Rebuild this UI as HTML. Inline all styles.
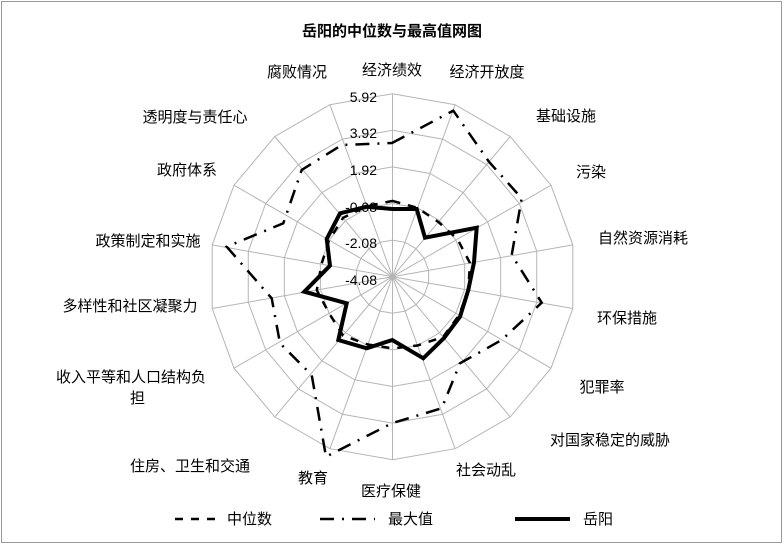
<!DOCTYPE html>
<html><head><meta charset="utf-8"><style>
body{margin:0;background:#fff}
svg{display:block}
text{font-family:"Liberation Sans","Noto Sans CJK SC",sans-serif;fill:#000}
</style></head><body>
<svg width="784" height="545" viewBox="0 0 784 545" xmlns="http://www.w3.org/2000/svg">
<rect x="1.5" y="1.5" width="780" height="541" fill="#fff" stroke="#999" stroke-width="1"/>
<text x="392" y="36" font-size="15" font-weight="bold" text-anchor="middle">岳阳的中位数与最高值网图</text>
<g transform="translate(392.5,276.7)" fill="none" stroke="#b5b5b5" stroke-width="1">
<g id="ring"><polygon vector-effect="non-scaling-stroke" points="0,-183 62.6,-172 117.7,-140.2 158.5,-91.5 180.3,-31.8 180.3,31.8 158.5,91.5 117.7,140.2 62.6,172 0,183 -62.6,172 -117.7,140.2 -158.5,91.5 -180.3,31.8 -180.3,-31.8 -158.5,-91.5 -117.7,-140.2 -62.6,-172"/></g>
<use href="#ring" transform="scale(0.8)"/>
<use href="#ring" transform="scale(0.6)"/>
<use href="#ring" transform="scale(0.4)"/>
<use href="#ring" transform="scale(0.2)"/>
<path d="M0,0L0,-183M0,0L62.6,-172M0,0L117.7,-140.2M0,0L158.5,-91.5M0,0L180.3,-31.8M0,0L180.3,31.8M0,0L158.5,91.5M0,0L117.7,140.2M0,0L62.6,172M0,0L0,183M0,0L-62.6,172M0,0L-117.7,140.2M0,0L-158.5,91.5M0,0L-180.3,31.8M0,0L-180.3,-31.8M0,0L-158.5,-91.5M0,0L-117.7,-140.2M0,0L-62.6,-172"/>
</g>
<g font-size="14" text-anchor="end">
<text x="377" y="102">5.92</text>
<text x="377" y="138">3.92</text>
<text x="377" y="175">1.92</text>
<text x="377" y="212">-0.08</text>
<text x="377" y="248">-2.08</text>
<text x="377" y="285">-4.08</text>
</g>
<polygon fill="none" stroke="#000" stroke-width="2.5" stroke-dasharray="8,8" points="392.5,200.9 417.5,207.9 438.4,222 457.5,239.2 470,263 468.2,290.1 459.1,315.2 443.1,337 417.5,345.5 392.5,348.4 367.8,344.5 343.1,335.6 329.1,313.3 316.8,290.1 321.5,264.2 329.1,240.1 343.1,217.8 366.9,206.2"/>
<polygon fill="none" stroke="#000" stroke-width="2.5" stroke-dasharray="14,8,2,8" points="392,143 453.3,110.7 489,161.8 521.7,198.3 511.7,255 541.7,302.7 501.7,340 460,363.3 441.7,408.3 392.5,423 326,456.7 311.7,375 280,343.3 271.7,298.3 226.7,246.7 283.3,223.3 301.7,170 341.7,145"/>
<polygon fill="none" stroke="#000" stroke-width="4" stroke-linejoin="miter" points="392.3,209 416.7,209 425,237.7 476.7,227.7 474,262.3 468.3,290 460,316.7 444,338 423.3,358.3 392.3,340 366.7,348.3 338.3,340 346.7,303.3 304.3,291.7 330,265.7 326.7,239 340,213.3 366.7,206.7"/>
<g font-size="15" text-anchor="middle">
<text x="392" y="75">经济绩效</text>
<text x="487" y="77">经济开放度</text>
<text x="566" y="121">基础设施</text>
<text x="591" y="177">污染</text>
<text x="643" y="243">自然资源消耗</text>
<text x="627" y="323">环保措施</text>
<text x="602" y="392">犯罪率</text>
<text x="610" y="445">对国家稳定的威胁</text>
<text x="486" y="475">社会动乱</text>
<text x="391" y="496">医疗保健</text>
<text x="313" y="483">教育</text>
<text x="190" y="471">住房、卫生和交通</text>
<text x="130" y="311">多样性和社区凝聚力</text>
<text x="148" y="246">政策制定和实施</text>
<text x="187" y="175">政府体系</text>
<text x="195" y="122">透明度与责任心</text>
<text x="297" y="77">腐败情况</text>
</g>
<g font-size="15">
<text x="56" y="382">收入平等和人口结构负</text>
<text x="130" y="403">担</text>
</g>
<line x1="175" y1="519" x2="215" y2="519" stroke="#000" stroke-width="2.5" stroke-dasharray="8,8"/>
<text x="227" y="524" font-size="15">中位数</text>
<line x1="320" y1="519" x2="375" y2="519" stroke="#000" stroke-width="2.5" stroke-dasharray="14,8,2,8"/>
<text x="388" y="524" font-size="15">最大值</text>
<line x1="515" y1="519" x2="570" y2="519" stroke="#000" stroke-width="4"/>
<text x="583" y="524" font-size="15">岳阳</text>
</svg>
</body></html>
